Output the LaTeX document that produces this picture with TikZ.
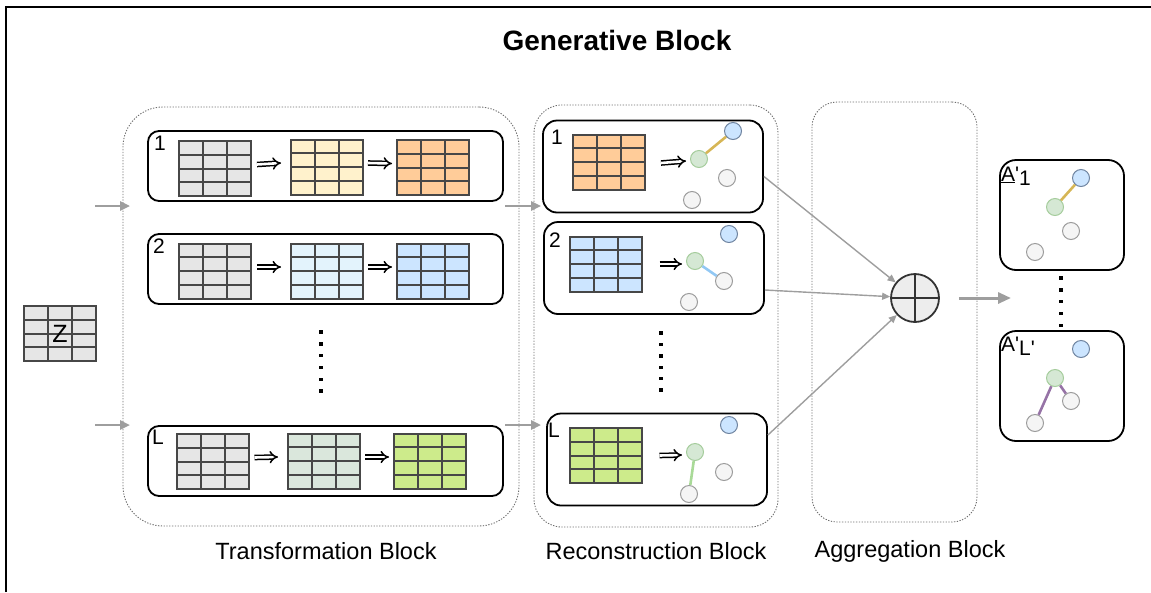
\documentclass[tikz,border=0pt]{standalone}
\usepackage{fontspec}
\setmainfont{Liberation Sans}
\usetikzlibrary{arrows.meta,calc}

\definecolor{mborder}{HTML}{474747}
\definecolor{cgray}{HTML}{E6E6E6}
\definecolor{cyellow}{HTML}{FFF2CC}
\definecolor{corange}{HTML}{FFCC99}
\definecolor{clblue}{HTML}{E3F3FC}
\definecolor{cblue}{HTML}{CCE5FF}
\definecolor{clgreen}{HTML}{DAE7DC}
\definecolor{cgreen}{HTML}{CDEB8B}
\definecolor{vblue}{HTML}{CCE5FF}
\definecolor{vbluedraw}{HTML}{6F84A0}
\definecolor{vgreen}{HTML}{D5E8D4}
\definecolor{vgreendraw}{HTML}{A5CC9C}
\definecolor{vgray}{HTML}{F5F5F5}
\definecolor{vgraydraw}{HTML}{9C9C9C}
\definecolor{egold}{HTML}{D6B656}
\definecolor{eblue}{HTML}{92C8F4}
\definecolor{egreen}{HTML}{A9DA98}
\definecolor{epurple}{HTML}{9673A6}
\definecolor{arrgray}{HTML}{9E9E9E}
\definecolor{contgray}{HTML}{6E6E6E}

\begin{document}
\begin{tikzpicture}[x=1pt,y=-1pt,
  mtx/.style={draw=mborder, line width=2pt, fill=#1, minimum width=72pt,
    minimum height=55pt, inner sep=0pt,
    path picture={
      \foreach \f in {1/3,2/3}
        \draw[mborder, line width=2pt]
          ($(path picture bounding box.north west)!\f!(path picture bounding box.north east)$) --
          ($(path picture bounding box.south west)!\f!(path picture bounding box.south east)$);
      \foreach \f in {1/4,1/2,3/4}
        \draw[mborder, line width=2pt]
          ($(path picture bounding box.north west)!\f!(path picture bounding box.south west)$) --
          ($(path picture bounding box.north east)!\f!(path picture bounding box.south east)$);
    }},
  tbox/.style={draw, line width=1.8pt, rounded corners=11pt, minimum width=355pt,
    minimum height=70pt, inner sep=0pt},
  rbox/.style={draw, line width=1.8pt, rounded corners=14pt, minimum width=220pt,
    minimum height=92pt, inner sep=0pt},
  abox/.style={draw, line width=1.8pt, rounded corners=16pt, minimum width=124pt,
    minimum height=110pt, inner sep=0pt},
  cont/.style={draw=contgray, line width=0.9pt, dash pattern=on 1.3pt off 1.5pt,
    inner sep=0pt},
  vb/.style={circle, draw=vbluedraw, fill=vblue, line width=1pt, minimum size=17pt, inner sep=0pt},
  vg/.style={circle, draw=vgreendraw, fill=vgreen, line width=1pt, minimum size=17pt, inner sep=0pt},
  vw/.style={circle, draw=vgraydraw, fill=vgray, line width=1pt, minimum size=17pt, inner sep=0pt},
  ed/.style={line width=2.6pt},
  dbl/.style={double=white, double distance=2.6pt, line width=1.5pt, -{Implies}},
  num/.style={inner sep=0pt, font=\fontsize{21}{25}\selectfont},
  lab/.style={inner sep=0pt, font=\fontsize{23.5}{28}\selectfont},
  inarr/.style={arrgray, line width=2.4pt, -{Triangle[length=10pt,width=9pt]}},
  aggarr/.style={arrgray, line width=1.4pt, -{Triangle[length=8pt,width=7pt]}},
  outarr/.style={arrgray, line width=3pt, -{Triangle[length=13pt,width=11pt]}},
  dot/.style={fill=black}
]
\useasboundingbox (0,0) rectangle (1151,592);

% frame
\draw[line width=2pt] (6,592) -- (6,7) -- (1151,7);

% title
\node[inner sep=0pt, font=\fontsize{28}{32}\selectfont\bfseries] (title) at (617,40) {Generative Block};

% containers
\node[cont, minimum width=396pt, minimum height=419pt, rounded corners=40pt] (tc) at (321,316.5) {};
\node[cont, minimum width=244pt, minimum height=422pt, rounded corners=28pt] (rc) at (656,316) {};
\node[cont, minimum width=165pt, minimum height=420pt, rounded corners=25pt] (ac) at (894.5,312) {};

\node[lab] (tclab) at (326,551) {Transformation Block};
\node[lab] (rclab) at (656,551) {Reconstruction Block};
\node[lab] (aclab) at (910,551) {Aggregation Block};

% input latent matrix
\node[mtx=cgray] (z) at (60,333.5) {};
\node[inner sep=0pt, font=\fontsize{25}{29}\selectfont] (zlab) at (60,334) {Z};

% transformation rows
\node[tbox] (t1) at (325.5,166) {};
\node[tbox] (t2) at (325.5,269) {};
\node[tbox] (tL) at (325.5,461) {};
\node[num] (t1n) at (160,143) {1};
\node[num] (t2n) at (159,246) {2};
\node[num] (tLn) at (158,437) {L};

\node[mtx=cgray]   (t1a) at (215,168.5) {};
\node[mtx=cyellow] (t1b) at (327,167) {};
\node[mtx=corange] (t1c) at (433,167.5) {};
\node[mtx=cgray]   (t2a) at (215,271) {};
\node[mtx=clblue]  (t2b) at (327,271) {};
\node[mtx=cblue]   (t2c) at (433,271) {};
\node[mtx=cgray]   (tLa) at (212.5,461.5) {};
\node[mtx=clgreen] (tLb) at (324,461) {};
\node[mtx=cgreen]  (tLc) at (430,461) {};

\foreach \r in {1,2,L}{
  \draw[dbl] ([xshift=5pt,yshift=4pt]t\r a.east) -- ([xshift=-9pt,yshift=4pt]t\r b.west);
  \draw[dbl] ([xshift=4pt,yshift=4pt]t\r b.east) -- ([xshift=-4pt,yshift=4pt]t\r c.west);
}

\foreach \k in {0,...,5}
  \fill[dot] (321-1.7,332-1.7+11.8*\k) rectangle ++(3.4,3.4);

% inputs to the transformation block
\coordinate (i1s) at (95,206);  \coordinate (i1e) at (130,206);
\coordinate (i2s) at (95,425);  \coordinate (i2e) at (130,425);
\draw[inarr] (i1s) -- (i1e);
\draw[inarr] (i2s) -- (i2e);

% transformation to reconstruction
\coordinate (m1s) at (505,206); \coordinate (m1e) at (541,206);
\coordinate (m2s) at (505,425); \coordinate (m2e) at (541,425);
\draw[inarr] (m1s) -- (m1e);
\draw[inarr] (m2s) -- (m2e);

% reconstruction rows
\node[rbox] (r1) at (653,166.5) {};
\node[rbox] (r2) at (654,268) {};
\node[rbox] (rL) at (657,459.5) {};
\node[num] (r1n) at (557,137) {1};
\node[num] (r2n) at (555,240) {2};
\node[num] (rLn) at (554,430) {L};

\node[mtx=corange] (r1m) at (609,162) {};
\node[mtx=cblue]   (r2m) at (605.5,264) {};
\node[mtx=cgreen]  (rLm) at (605.5,455.5) {};

\node[vg] (r1g) at (699,159) {};
\node[vb] (r1b) at (733,131) {};
\node[vw] (r1w) at (727,178) {};
\node[vw] (r1x) at (692,200) {};
\draw[ed, egold] (r1g) -- (r1b);

\node[vg] (r2g) at (695,261) {};
\node[vb] (r2b) at (729,234) {};
\node[vw] (r2w) at (724,281) {};
\node[vw] (r2x) at (689,302) {};
\draw[ed, eblue] (r2g) -- (r2w);

\node[vg] (rLg) at (695,452) {};
\node[vb] (rLb) at (729,425) {};
\node[vw] (rLw) at (724,472) {};
\node[vw] (rLx) at (689,494) {};
\draw[ed, egreen] (rLg) -- (rLx);

\draw[dbl] ([xshift=15pt,yshift=-1pt]r1m.east) -- ([xshift=-4pt,yshift=-2pt]r1g.west);
\draw[dbl] ([xshift=17pt]r2m.east) -- ([xshift=-4pt,yshift=-3pt]r2g.west);
\draw[dbl] ([xshift=17pt]rLm.east) -- ([xshift=-4pt,yshift=-3pt]rLg.west);

\foreach \k in {0,...,5}
  \fill[dot] (661-1.7,333-1.7+11.4*\k) rectangle ++(3.4,3.4);

% aggregation
\node[circle, draw=black!80, fill=black!7, line width=1.8pt, minimum size=48pt, inner sep=0pt] (ag) at (915,298) {};
\draw[black!80, line width=1.8pt] (ag.north) -- (ag.south);
\draw[black!80, line width=1.8pt] (ag.west) -- (ag.east);

\draw[aggarr] ([yshift=-10pt]r1.east) -- (ag);
\draw[aggarr] ([yshift=-22pt]r2.east) -- (ag);
\draw[aggarr] ([yshift=24.5pt]rL.east) -- (ag);

\coordinate (oute) at (1011,298);
\draw[outarr] ([xshift=19pt]ag.east) -- (oute);

% generated adjacency outputs
\node[abox] (a1) at (1062,215) {};
\node[abox] (aL) at (1062,386) {};
\node[inner sep=0pt, anchor=west, font=\fontsize{21}{25}\selectfont] (a1n) at (1001,176)
  {\underline{A}\textquotesingle\raisebox{-0.4ex}{1}};
\node[inner sep=0pt, anchor=west, font=\fontsize{21}{25}\selectfont] (aLn) at (1001,346)
  {A\textquotesingle\raisebox{-0.4ex}{L\textquotesingle}};

\node[vb] (a1b) at (1081,178) {};
\node[vg] (a1g) at (1055,207) {};
\node[vw] (a1w) at (1071,231) {};
\node[vw] (a1x) at (1035,252) {};
\draw[ed, egold] (a1g) -- (a1b);

\node[vb] (aLb) at (1081,349) {};
\node[vg] (aLg) at (1055,378) {};
\node[vw] (aLw) at (1071,401) {};
\node[vw] (aLx) at (1035,423) {};
\draw[ed, epurple] (aLg) -- (aLw);
\draw[ed, epurple] (aLg) -- (aLx);

\foreach \k in {0,...,4}
  \fill[dot] (1061-1.7,278-1.7+11.8*\k) rectangle ++(3.4,3.4);
\end{tikzpicture}
\end{document}
